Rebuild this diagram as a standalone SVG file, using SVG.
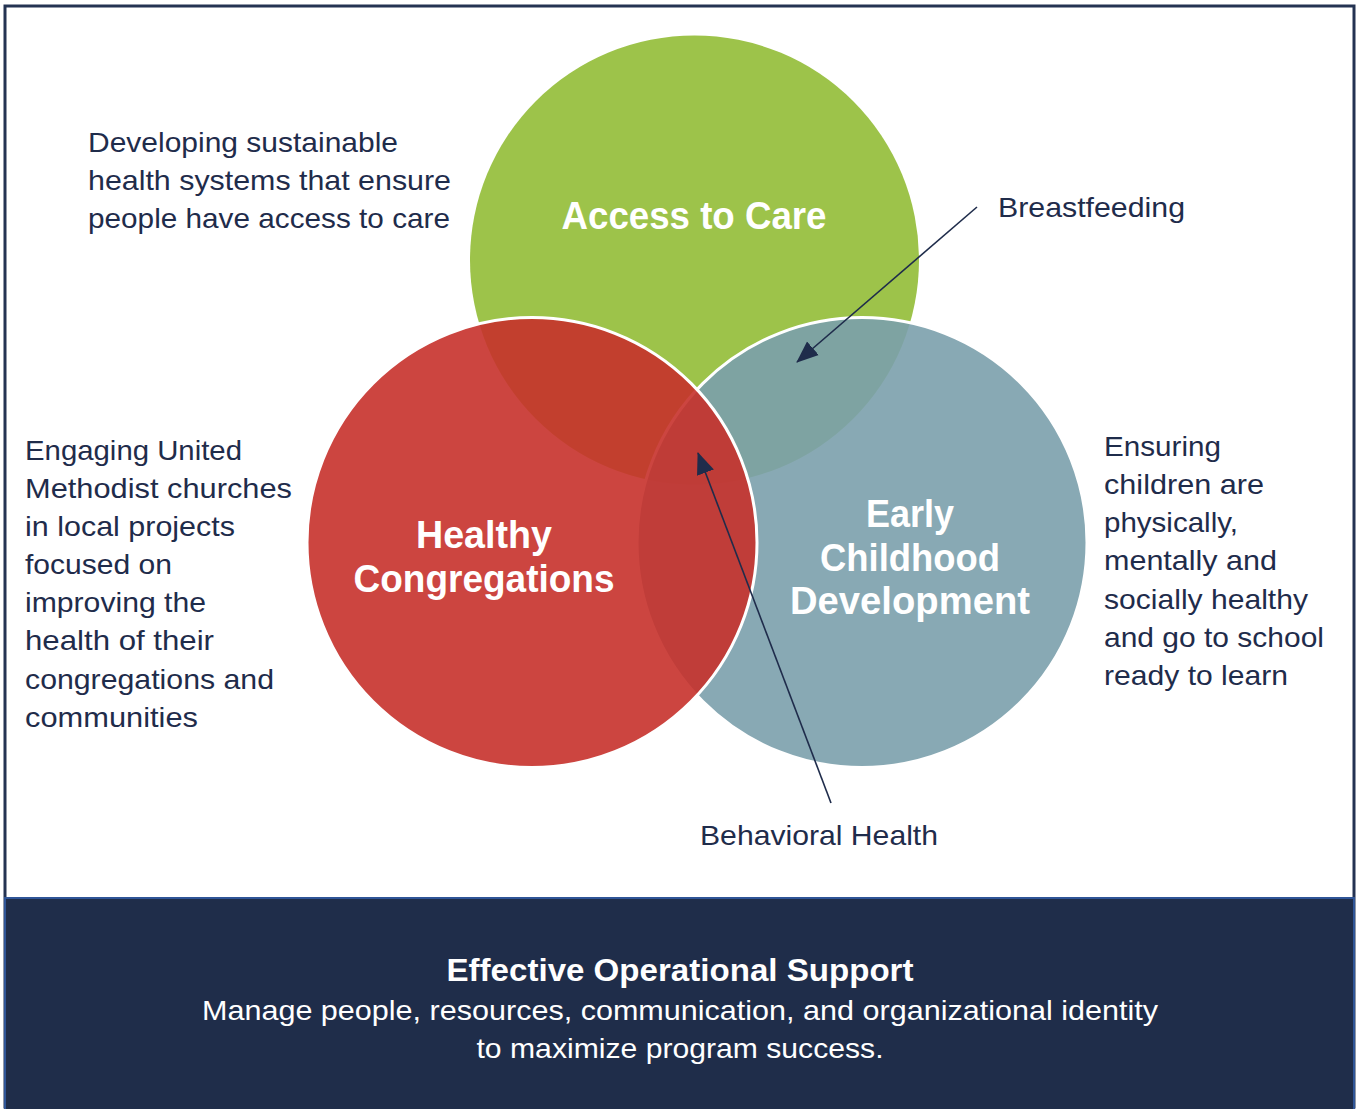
<svg xmlns="http://www.w3.org/2000/svg" width="1356" height="1109" viewBox="0 0 1356 1109">
<defs>
<style>
.t{font-family:"Liberation Sans",Arial,sans-serif;font-size:28px;fill:#1f2c4b}
.h{font-family:"Liberation Sans",Arial,sans-serif;font-weight:bold;font-size:39px;fill:#ffffff;text-anchor:middle}
.b{font-family:"Liberation Sans",Arial,sans-serif;fill:#ffffff;text-anchor:middle}
.c{stroke:#ffffff;stroke-width:3}
.conn{stroke:#1f2c4b;stroke-width:1.6;fill:none;marker-end:url(#ah)}
</style>
<marker id="ah" markerUnits="userSpaceOnUse" markerWidth="24" markerHeight="20" refX="21" refY="9" orient="auto" viewBox="0 0 24 18">
<path d="M0,0 L22,9 L0,18 Z" fill="#1f2c4b"/>
</marker>
</defs>
<rect x="0" y="0" width="1356" height="1109" fill="#ffffff"/>
<rect x="5" y="6" width="1349" height="1101" fill="#ffffff" stroke="#243352" stroke-width="3"/>
<g id="bottom-bar">
<rect x="5" y="898" width="1349" height="213" fill="#1f2d4a" stroke="#2f5597" stroke-width="2"/>
<text class="b" x="680" y="981" font-size="31" font-weight="bold" textLength="467" lengthAdjust="spacingAndGlyphs">Effective Operational Support</text>
<text class="b" x="680" y="1020" font-size="28" textLength="956" lengthAdjust="spacingAndGlyphs">Manage people, resources, communication, and organizational identity</text>
<text class="b" x="680" y="1058" font-size="28" textLength="407" lengthAdjust="spacingAndGlyphs">to maximize program success.</text>
</g>
<g id="access-to-care">
<circle cx="694.5" cy="260" r="224.5" fill="#9dc34a"/>
<text class="h" x="694" y="229" textLength="265" lengthAdjust="spacingAndGlyphs">Access to Care</text>
</g>
<g id="early-childhood">
<circle class="c" cx="862" cy="542.5" r="225" fill="#7ba0ac" fill-opacity="0.9"/>
<text class="h" x="910" y="527" textLength="88" lengthAdjust="spacingAndGlyphs">Early</text>
<text class="h" x="910" y="571" textLength="180" lengthAdjust="spacingAndGlyphs">Childhood</text>
<text class="h" x="910" y="614" textLength="240" lengthAdjust="spacingAndGlyphs">Development</text>
</g>
<g id="healthy-congregations">
<circle class="c" cx="532" cy="542.5" r="225" fill="#c6312b" fill-opacity="0.9"/>
<text class="h" x="484" y="548" textLength="136" lengthAdjust="spacingAndGlyphs">Healthy</text>
<text class="h" x="484" y="592" textLength="261" lengthAdjust="spacingAndGlyphs">Congregations</text>
</g>
<g id="connectors">
<line class="conn" x1="977" y1="207" x2="797" y2="362"/>
<line class="conn" x1="831" y1="803" x2="698" y2="453"/>
</g>
<g id="desc-access">
<text class="t" x="88" y="152" textLength="310" lengthAdjust="spacingAndGlyphs">Developing sustainable</text>
<text class="t" x="88" y="190" textLength="363" lengthAdjust="spacingAndGlyphs">health systems that ensure</text>
<text class="t" x="88" y="228" textLength="362" lengthAdjust="spacingAndGlyphs">people have access to care</text>
</g>
<g id="label-breastfeeding">
<text class="t" x="998" y="217" textLength="187" lengthAdjust="spacingAndGlyphs">Breastfeeding</text>
</g>
<g id="desc-congregations">
<text class="t" x="25" y="460" textLength="217" lengthAdjust="spacingAndGlyphs">Engaging United</text>
<text class="t" x="25" y="498" textLength="267" lengthAdjust="spacingAndGlyphs">Methodist churches</text>
<text class="t" x="25" y="536" textLength="210" lengthAdjust="spacingAndGlyphs">in local projects</text>
<text class="t" x="25" y="574" textLength="147" lengthAdjust="spacingAndGlyphs">focused on</text>
<text class="t" x="25" y="612" textLength="181" lengthAdjust="spacingAndGlyphs">improving the</text>
<text class="t" x="25" y="650" textLength="189" lengthAdjust="spacingAndGlyphs">health of their</text>
<text class="t" x="25" y="689" textLength="249" lengthAdjust="spacingAndGlyphs">congregations and</text>
<text class="t" x="25" y="727" textLength="173" lengthAdjust="spacingAndGlyphs">communities</text>
</g>
<g id="desc-early">
<text class="t" x="1104" y="456" textLength="117" lengthAdjust="spacingAndGlyphs">Ensuring</text>
<text class="t" x="1104" y="494" textLength="160" lengthAdjust="spacingAndGlyphs">children are</text>
<text class="t" x="1104" y="532" textLength="134" lengthAdjust="spacingAndGlyphs">physically,</text>
<text class="t" x="1104" y="570" textLength="173" lengthAdjust="spacingAndGlyphs">mentally and</text>
<text class="t" x="1104" y="609" textLength="204" lengthAdjust="spacingAndGlyphs">socially healthy</text>
<text class="t" x="1104" y="647" textLength="220" lengthAdjust="spacingAndGlyphs">and go to school</text>
<text class="t" x="1104" y="685" textLength="184" lengthAdjust="spacingAndGlyphs">ready to learn</text>
</g>
<g id="label-behavioral">
<text class="t" x="700" y="845" textLength="238" lengthAdjust="spacingAndGlyphs">Behavioral Health</text>
</g>
</svg>
